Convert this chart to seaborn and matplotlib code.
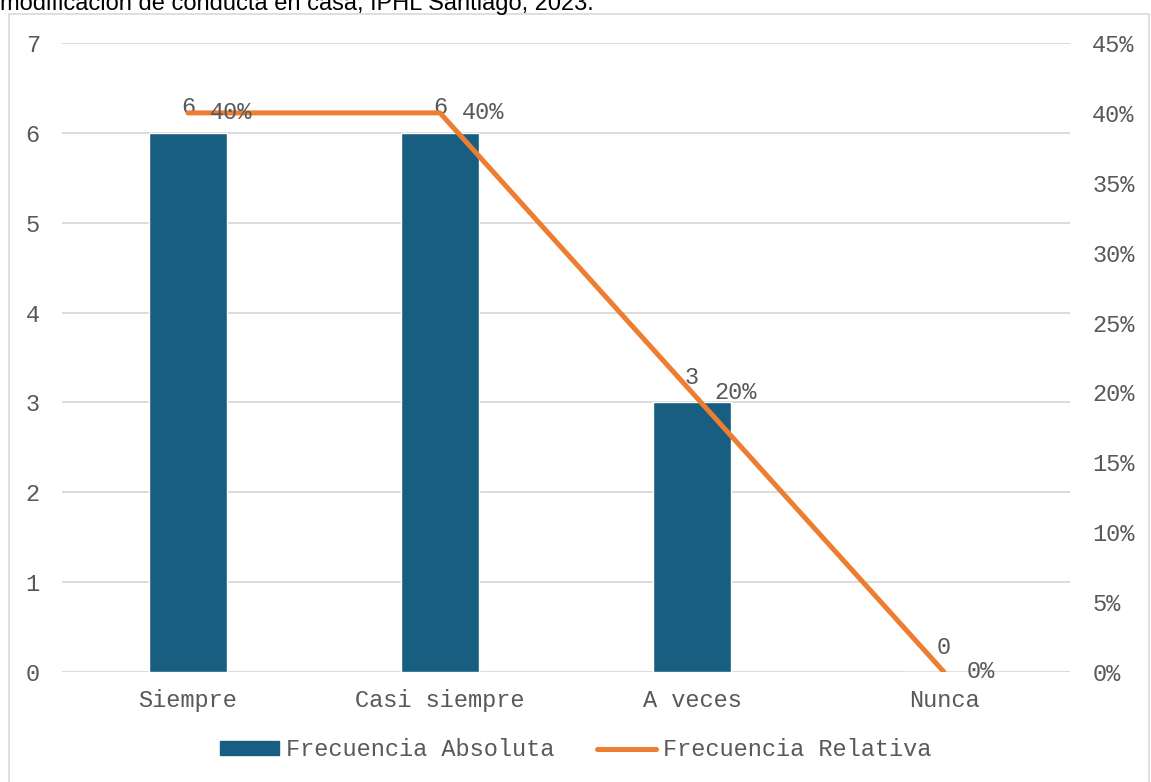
import matplotlib.pyplot as plt
import matplotlib.patches as mpatches
from matplotlib.lines import Line2D
import numpy as np
import pandas as pd
import seaborn as sns

# datos
categorias = ["Siempre", "Casi siempre", "A veces", "Nunca"]
frec_absoluta = [6, 6, 3, 0]
frec_relativa = [40, 40, 20, 0]
titulo = "modificación de conducta en casa, IPHL Santiago, 2023."

color_barra = "#175E80"
color_linea = "#ED7D31"
color_texto = "#595959"
fs = 17

sns.set_theme(style="white")
plt.rcParams["font.family"] = ["Liberation Mono", "DejaVu Sans Mono"]

df = pd.DataFrame({"cat": categorias, "abs": frec_absoluta, "rel": frec_relativa})
df["pos"] = np.arange(len(df))

W, H = 1151, 782
fig = plt.figure(figsize=(W / 100, H / 100), dpi=100)
ax = fig.add_axes([62 / W, 110 / H, 1008 / W, 629 / H])

# marco del gráfico
fig.patches.append(mpatches.Rectangle((9 / W, -0.05), 1140 / W, (H - 14) / H + 0.05,
                                      transform=fig.transFigure, fill=False,
                                      edgecolor="#D9D9D9", linewidth=1.2))

# barras
sns.barplot(data=df, x="cat", y="abs", color=color_barra, width=0.31,
            saturation=1, ax=ax, zorder=2)
ax.set_ylim(0, 7)
ax.set_xlim(-0.5, 3.5)
ax.set_yticks(range(0, 8))
ax.yaxis.grid(True, color="#D9D9D9", linewidth=1.3, zorder=0)
ax.set_axisbelow(True)
ax.set_xlabel("")
ax.set_ylabel("")
for s in ax.spines.values():
    s.set_visible(False)
ax.tick_params(axis="both", length=0, labelsize=fs, labelcolor=color_texto)
ax.tick_params(axis="y", pad=16)
ax.tick_params(axis="x", pad=12)

# línea en eje secundario
ax2 = ax.twinx()
sns.lineplot(data=df, x="pos", y="rel", color=color_linea, linewidth=3.6,
             ax=ax2, zorder=3, solid_capstyle="round", solid_joinstyle="round")
ax2.set_ylim(0, 45)
ax2.set_xlim(-0.5, 3.5)
ax2.set_yticks(range(0, 50, 5))
ax2.set_yticklabels([f"{v}%" for v in range(0, 50, 5)])
ax2.set_ylabel("")
ax2.set_xlabel("")
ax2.grid(False)
for s in ax2.spines.values():
    s.set_visible(False)
ax2.tick_params(axis="y", length=0, labelsize=fs, labelcolor=color_texto, pad=16)

# etiquetas de datos
for i, v in enumerate(frec_absoluta):
    ax.annotate(str(v), (i, v), xytext=(0, 18), textcoords="offset points",
                ha="center", va="center", fontsize=fs, color=color_texto, zorder=5)
for i, v in enumerate(frec_relativa):
    ax2.annotate(f"{v}%", (i, v), xytext=(16, 0), textcoords="offset points",
                 ha="left", va="center", fontsize=fs, color=color_texto, zorder=5)

# leyenda
handles = [mpatches.Patch(color=color_barra),
           Line2D([0], [0], color=color_linea, linewidth=3.6, solid_capstyle="round")]
fig.legend(handles, ["Frecuencia Absoluta", "Frecuencia Relativa"],
           loc="center", bbox_to_anchor=(0.5, 1 - 750 / H), ncol=2, frameon=False,
           fontsize=fs, labelcolor=color_texto, handlelength=2.5, handleheight=0.55,
           handletextpad=0.3, columnspacing=1.8)

# título (recortado en la parte superior, como en el original)
fig.text(0, 1 - 10 / H, titulo, family=["Liberation Sans", "DejaVu Sans"],
         fontsize=17, color="black", ha="left", va="baseline")

fig.savefig("out.png", dpi=100)
